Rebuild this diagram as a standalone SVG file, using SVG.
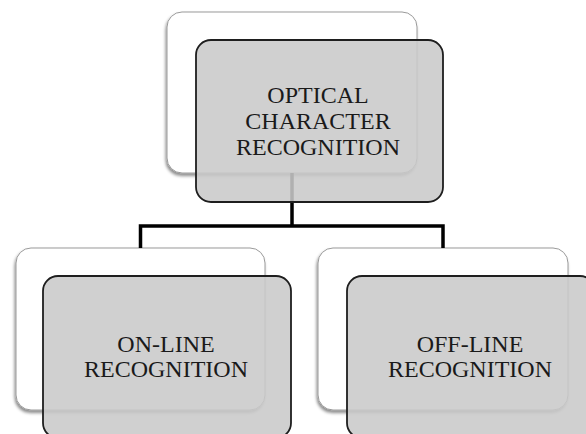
<svg xmlns="http://www.w3.org/2000/svg" width="586" height="434" viewBox="0 0 586 434">
  <defs>
    <filter id="shadow" x="-10%" y="-10%" width="120%" height="125%">
      <feDropShadow dx="-1" dy="2.5" stdDeviation="1.8" flood-color="#000" flood-opacity="0.45"/>
    </filter>
  </defs>
  <style>
    .back { fill: #ffffff; stroke: #9a9a9a; stroke-width: 1; filter: url(#shadow); }
    .front { fill: rgb(201,201,201); fill-opacity: 0.875; stroke: #1e1e1e; stroke-width: 1.8; }
    .label { font-family: "Liberation Serif", "Times New Roman", serif; font-size: 24px; fill: #1a1a1a; text-anchor: middle; }
    .conn { fill: none; stroke: #000; stroke-width: 3.5; stroke-linejoin: miter; }
  </style>
  <rect width="586" height="434" fill="#ffffff"/>

  <!-- back cards -->
  <g id="ocr-back"><rect class="back" x="167" y="12" width="250" height="161" rx="15"/></g>
  <g id="online-back"><rect class="back" x="16" y="248" width="249" height="162" rx="15"/></g>
  <g id="offline-back"><rect class="back" x="318" y="248" width="250" height="162" rx="15"/></g>

  <!-- tree connectors -->
  <g id="connectors">
    <path class="conn" d="M292 173 V226 M140.5 248 V226 H443 V248"/>
  </g>

  <!-- front cards with labels -->
  <g id="ocr">
    <rect class="front" x="196" y="40" width="247" height="162" rx="15"/>
    <text class="label" x="318" y="103">OPTICAL</text>
    <text class="label" x="318" y="129">CHARACTER</text>
    <text class="label" x="318" y="155">RECOGNITION</text>
  </g>
  <g id="online">
    <rect class="front" x="43" y="276" width="248" height="162" rx="15"/>
    <text class="label" x="166" y="352">ON-LINE</text>
    <text class="label" x="166" y="377">RECOGNITION</text>
  </g>
  <g id="offline">
    <rect class="front" x="347" y="276" width="248" height="162" rx="15"/>
    <text class="label" x="470" y="352">OFF-LINE</text>
    <text class="label" x="470" y="377">RECOGNITION</text>
  </g>
</svg>
